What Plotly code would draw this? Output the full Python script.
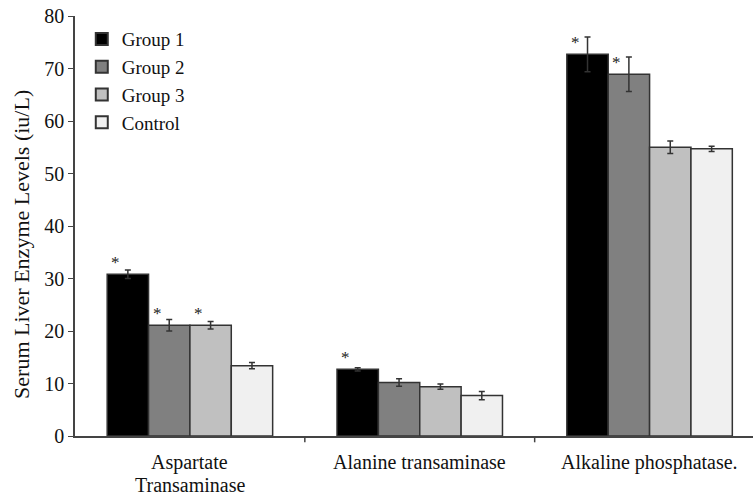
import plotly.graph_objects as go

categories = ["Aspartate<br>Transaminase", "Alanine transaminase", "Alkaline phosphatase."]
groups = ["Group 1", "Group 2", "Group 3", "Control"]
values = {
    "Group 1": [30.8, 12.7, 72.7],
    "Group 2": [21.1, 10.2, 68.9],
    "Group 3": [21.1, 9.4, 55.0],
    "Control": [13.4, 7.7, 54.7],
}
errors = {
    "Group 1": [0.8, 0.3, 3.3],
    "Group 2": [1.1, 0.7, 3.3],
    "Group 3": [0.7, 0.5, 1.2],
    "Control": [0.6, 0.8, 0.5],
}
# significance markers: (group, category index)
stars = [("Group 1", 0), ("Group 2", 0), ("Group 3", 0), ("Group 1", 1), ("Group 1", 2), ("Group 2", 2)]
colors = ["#000000", "#808080", "#c0c0c0", "#f0f0f0"]
y_title = "Serum Liver Enzyme Levels (iu/L)"

font = "Liberation Serif, Times New Roman, serif"
fig = go.Figure()
for g, c in zip(groups, colors):
    fig.add_trace(go.Bar(
        name=g, x=list(range(len(categories))), y=values[g],
        marker=dict(color=c, line=dict(color="#333333", width=1.5)),
        error_y=dict(type="data", array=errors[g], color="#333333", thickness=1.5, width=3),
    ))

bargap = 0.28
bw = (1 - bargap) / len(groups)
for g, ci in stars:
    gi = groups.index(g)
    xpos = ci - (1 - bargap) / 2 + bw * (gi + 0.5)
    fig.add_annotation(x=xpos, y=values[g][ci], text="*", showarrow=False,
                       xshift=-12, yshift=12, font=dict(family=font, size=17, color="#222"))

# category labels drawn line by line for tighter line spacing
for ci, cat in enumerate(categories):
    for li, line in enumerate(cat.split("<br>")):
        fig.add_annotation(x=ci, y=0, xref="x", yref="paper", text=line, showarrow=False,
                           yanchor="middle", yshift=-26 - 23 * li,
                           font=dict(family=font, size=20, color="#111"))

# y-axis title
fig.add_annotation(x=0, y=0.455, xref="paper", yref="paper", text=y_title, showarrow=False,
                   textangle=-90, xanchor="center", yanchor="middle", xshift=-53,
                   font=dict(family=font, size=22, color="#111"))

fig.update_layout(
    width=753, height=495,
    margin=dict(l=75, r=0, t=16, b=59, autoexpand=False),
    barmode="group", bargap=bargap, bargroupgap=0,
    plot_bgcolor="white", paper_bgcolor="white",
    font=dict(family=font, size=19, color="#111"),
    legend=dict(x=0.01, y=0.99, xanchor="left", yanchor="top",
                font=dict(family=font, size=19), tracegroupgap=0, itemsizing="constant",
                bgcolor="rgba(0,0,0,0)"),
    showlegend=True,
)
fig.update_xaxes(
    range=[-0.5, 2.45], showline=True, linecolor="#444", linewidth=1.5,
    ticks="", showticklabels=False, showgrid=False, zeroline=False, automargin=False,
)
for b in [0.5, 1.5]:
    fig.add_shape(type="line", xref="x", yref="paper", x0=b, x1=b, y0=0, y1=-0.015,
                  line=dict(color="#444", width=1.5))
fig.update_yaxes(
    range=[0, 80], dtick=10, showline=True, linecolor="#444", linewidth=1.5,
    ticks="outside", ticklen=5, tickcolor="#444", showgrid=False, zeroline=False,
    automargin=False,
    tickfont=dict(family=font, size=20),
)
fig.write_html("out.html", config={"displayModeBar": False},
               post_script="document.body.style.margin='0';")
